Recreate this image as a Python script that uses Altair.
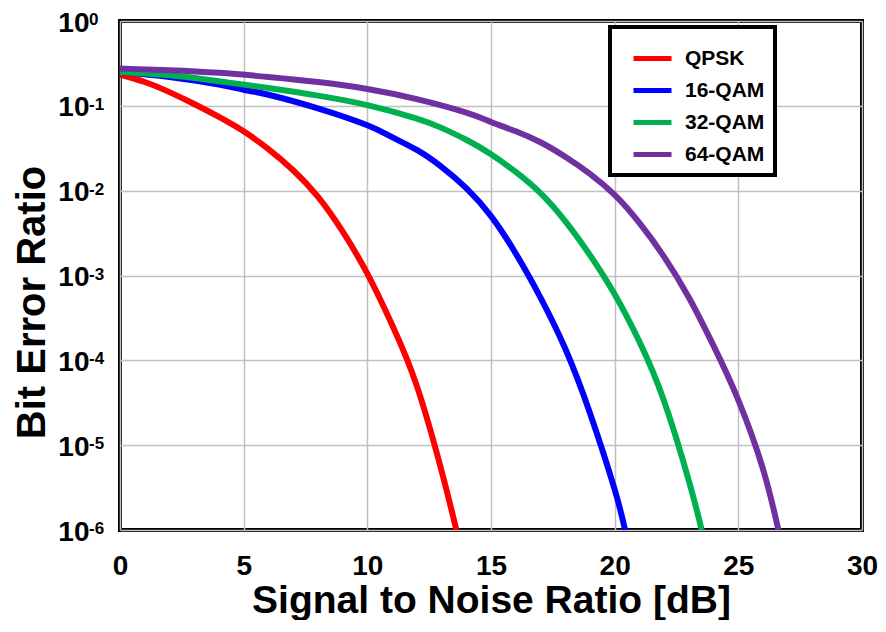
import altair as alt
import pandas as pd

FONT = "Liberation Sans"

series_names = ["QPSK", "16-QAM", "32-QAM", "64-QAM"]
series_colors = ["#FF0000", "#0000FF", "#00B050", "#7030A0"]

qpsk_snr = [0, 1, 2, 3, 4, 5, 6, 7, 8, 9, 10, 11, 12, 13, 13.6]
qpsk_ber = [0.234, 0.191, 0.145, 0.105, 0.0741, 0.0501, 0.0309, 0.0174,
            0.00851, 0.00331, 1.05e-3, 2.63e-4, 5.0e-5, 5.0e-6, 1e-6]

qam16_snr = [0, 2, 4, 5, 6, 8, 10, 11, 12, 13, 14, 15, 16, 17, 18, 19, 20, 20.42]
qam16_ber = [0.251, 0.219, 0.178, 0.155, 0.135, 0.0933, 0.0589, 0.0427, 0.0302,
             0.0191, 0.0107, 0.00501, 0.00182, 5.5e-4, 1.38e-4, 2.4e-5, 3.0e-6, 1e-6]

qam32_snr = [0, 2, 4, 6, 8, 10, 12, 13, 14, 15, 16, 17, 18, 19, 20, 21, 22, 23, 23.52]
qam32_ber = [0.251, 0.229, 0.195, 0.162, 0.132, 0.102, 0.0708, 0.055, 0.0398,
             0.0269, 0.0166, 0.00933, 0.00437, 0.00174, 6.0e-4, 1.66e-4, 3.3e-5,
             3.8e-6, 1e-6]

qam64_snr = [0, 2, 4, 6, 8, 10, 12, 14, 15, 16, 17, 18, 19, 20, 21, 22, 23, 24,
             25, 26, 26.62]
qam64_ber = [0.275, 0.263, 0.245, 0.219, 0.191, 0.158, 0.120, 0.0832, 0.0646,
             0.0501, 0.0372, 0.0251, 0.0158, 0.00891, 0.00417, 0.00166, 5.5e-4,
             1.48e-4, 3.4e-5, 5.2e-6, 1e-6]

x_ticks = [0, 5, 10, 15, 20, 25, 30]
y_ticks = [1, 0.1, 0.01, 0.001, 1e-4, 1e-5, 1e-6]
y_exponents = ["0", "-1", "-2", "-3", "-4", "-5", "-6"]

rows = []
for name, xs, ys in zip(series_names,
                        [qpsk_snr, qam16_snr, qam32_snr, qam64_snr],
                        [qpsk_ber, qam16_ber, qam32_ber, qam64_ber]):
    for i, (xv, yv) in enumerate(zip(xs, ys)):
        rows.append({"series": name, "snr": xv, "ber": yv, "order": i})
df = pd.DataFrame(rows)

exp_df = pd.DataFrame({"ber": y_ticks, "exp": y_exponents})

PLOT_W = 742

x_enc = alt.X("snr:Q",
              scale=alt.Scale(domain=[0, 30], nice=False),
              axis=alt.Axis(values=x_ticks, title="Signal to Noise Ratio [dB]",
                            grid=True, ticks=False, domain=False,
                            labelFlush=False, labelPadding=22,
                            labelFontSize=28, labelFont=FONT, labelFontWeight="bold",
                            labelColor="black",
                            titleFontSize=39, titleFont=FONT, titleFontWeight="bold",
                            titleColor="black", titleX=PLOT_W / 2, titleY=82,
                            titleBaseline="alphabetic", titleAlign="center"))

y_scale = alt.Scale(type="log", domain=[1e-6, 1], nice=False)

lines = alt.Chart(df).mark_line(strokeWidth=6, interpolate="natural", clip=True).encode(
    x=x_enc,
    y=alt.Y("ber:Q", scale=y_scale,
            axis=alt.Axis(values=y_ticks, labelExpr="'10'", title="Bit Error Ratio",
                          grid=True, ticks=False, domain=False,
                          labelPadding=31, labelOffset=2,
                          labelFontSize=28, labelFont=FONT, labelFontWeight="bold",
                          labelColor="black",
                          titleFontSize=40, titleFont=FONT, titleFontWeight="bold",
                          titleColor="black", titleX=-76, titleY=281,
                          titleBaseline="alphabetic", titleAlign="center", titleAngle=270)),
    color=alt.Color("series:N",
                    scale=alt.Scale(domain=series_names, range=series_colors),
                    legend=alt.Legend(title=None, orient="none", legendX=490, legendY=6,
                                      symbolType="stroke", symbolSize=1444,
                                      symbolStrokeWidth=5, symbolOffset=11,
                                      labelFontSize=21, labelFont=FONT,
                                      labelFontWeight="bold", labelColor="black",
                                      labelOffset=11,
                                      labelExpr="datum.label + '\u00a0\u00a0'",
                                      rowPadding=0, padding=10,
                                      strokeColor="black", fillColor="white")),
    order="order:Q",
)

exps = alt.Chart(exp_df).mark_text(align="left", baseline="alphabetic", dy=4,
                                   fontSize=17, font=FONT, fontWeight="bold",
                                   color="black").encode(
    x=alt.value(-31),
    y=alt.Y("ber:Q", scale=y_scale),
    text="exp:N",
)

chart = alt.layer(lines, exps).properties(
    width=PLOT_W, height=509,
    autosize=alt.AutoSizeParams(type="none"),
    padding={"left": 112, "top": 13, "right": 16, "bottom": 90},
    background="white",
).configure_view(
    stroke="black", strokeWidth=4
).configure_axis(
    gridColor="#C0C0C0", gridWidth=1.5, gridOpacity=1
).configure_legend(
    strokeWidth=4
)

chart.save("out.html", embed_options={"renderer": "svg", "actions": False})
